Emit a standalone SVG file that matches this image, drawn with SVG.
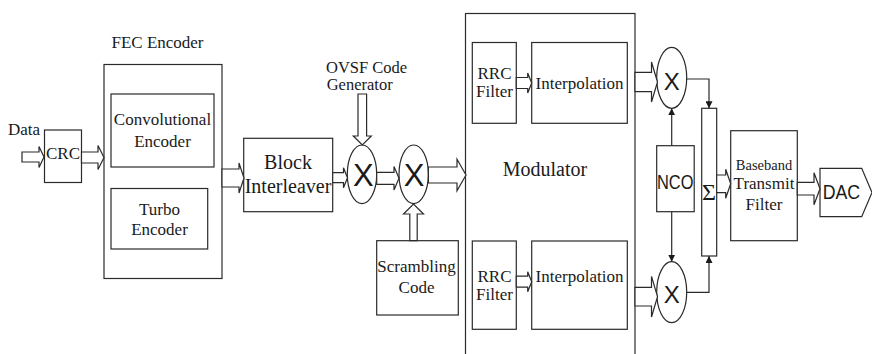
<svg xmlns="http://www.w3.org/2000/svg" width="872" height="354" viewBox="0 0 872 354" font-family="'Liberation Serif', 'Times New Roman', Tinos, 'DejaVu Serif', serif">
  <style>
    .box { fill: #fff; stroke: #2a2a2a; stroke-width: 1.2; }
    .fat { fill: #fff; stroke: #2a2a2a; stroke-width: 1.2; stroke-linejoin: miter; }
    .wire { fill: none; stroke: #2a2a2a; stroke-width: 1.2; }
    text { font-family: 'Liberation Serif', 'Times New Roman', Tinos, 'DejaVu Serif', serif; fill: #1a1a1a; font-size: 17px; }
    text.s { font-family: 'Liberation Sans', Arial, sans-serif; }
    .m { text-anchor: middle; }
  </style>
  <defs>
    <marker id="tip" viewBox="0 0 8 8" refX="8" refY="4" markerWidth="7" markerHeight="7" markerUnits="userSpaceOnUse" orient="auto">
      <path d="M0,0 L8,4 L0,8 z" fill="#1a1a1a"/>
    </marker>
  </defs>

  <!-- input label -->
  <text x="8" y="135">Data</text>

  <g id="crc">
    <rect class="box" x="44.5" y="130" width="37" height="52.5"/>
    <text class="m" x="63" y="159">CRC</text>
  </g>

  <g id="fec-encoder">
    <text class="m" x="157.5" y="48">FEC Encoder</text>
    <rect class="box" x="104" y="64.5" width="118" height="214"/>
    <rect class="box" x="111" y="94" width="103" height="73"/>
    <text class="m" x="162.5" y="125">Convolutional</text>
    <text class="m" x="162.5" y="146.7">Encoder</text>
    <rect class="box" x="111" y="188.5" width="96.7" height="60.5"/>
    <text class="m" x="159.5" y="215">Turbo</text>
    <text class="m" x="159.5" y="235">Encoder</text>
  </g>

  <g id="block-interleaver">
    <rect class="box" x="243.7" y="138.3" width="89" height="73.4"/>
    <text class="m" x="288" y="169.3" style="font-size:20px">Block</text>
    <text class="m" x="288" y="193.3" style="font-size:20px">Interleaver</text>
  </g>

  <g id="ovsf-generator">
    <text x="326" y="72.5" style="font-size:16.5px">OVSF Code</text>
    <text x="326.7" y="90" style="font-size:16.5px">Generator</text>
  </g>

  <g id="spread-mixer">
    <ellipse class="box" cx="362" cy="174.3" rx="14.7" ry="29.3"/>
    <text class="s m" x="363.3" y="185.7" style="font-size:31px">X</text>
  </g>

  <g id="scramble-mixer">
    <ellipse class="box" cx="413.7" cy="174.3" rx="14.7" ry="29.3"/>
    <text class="s m" x="414.2" y="185.7" style="font-size:31px">X</text>
  </g>

  <g id="scrambling-code">
    <rect class="box" x="376.7" y="240.7" width="81.6" height="74.3"/>
    <text class="m" x="416.5" y="272.3">Scrambling</text>
    <text class="m" x="416.5" y="292.7">Code</text>
  </g>

  <g id="modulator">
    <rect class="box" x="465.5" y="13.5" width="169.5" height="350"/>
    <text class="m" x="545" y="176" style="font-size:20px">Modulator</text>
    <rect class="box" x="472.3" y="42.5" width="44" height="80.8"/>
    <text class="m" x="494.5" y="79">RRC</text>
    <text class="m" x="494.5" y="97">Filter</text>
    <rect class="box" x="531.7" y="42.5" width="95.6" height="80.8"/>
    <text class="m" x="579.5" y="89">Interpolation</text>
    <rect class="box" x="472.3" y="241" width="44" height="88.3"/>
    <text class="m" x="494.5" y="281.5">RRC</text>
    <text class="m" x="494.5" y="300">Filter</text>
    <rect class="box" x="531.7" y="241" width="95.6" height="88.3"/>
    <text class="m" x="579.5" y="282">Interpolation</text>
  </g>

  <g id="i-mixer">
    <ellipse class="box" cx="671.7" cy="77.8" rx="15" ry="30.5"/>
    <text class="s m" x="671.7" y="90" style="font-size:24px">X</text>
  </g>

  <g id="q-mixer">
    <ellipse class="box" cx="671.7" cy="292.2" rx="15" ry="30.5"/>
    <text class="s m" x="671.7" y="303" style="font-size:24px">X</text>
  </g>

  <g id="nco">
    <rect class="box" x="656.7" y="145.7" width="37.5" height="66"/>
    <text class="s" x="657" y="188.5" style="font-size:20px" textLength="36.5" lengthAdjust="spacingAndGlyphs">NCO</text>
  </g>

  <g id="summer">
    <rect class="box" x="701.7" y="108.3" width="15" height="147.7"/>
    <text class="m" x="709" y="200" style="font-size:24px">Σ</text>
  </g>

  <g id="baseband-filter">
    <rect class="box" x="730.7" y="130.7" width="66.6" height="110"/>
    <text class="m" x="764" y="170" style="font-size:14.5px">Baseband</text>
    <text class="m" x="764" y="189">Transmit</text>
    <text class="m" x="764" y="210">Filter</text>
  </g>

  <g id="dac">
    <polygon class="box" points="820,168.3 861.7,168.3 872,192.5 861.7,216.7 820,216.7"/>
    <text class="s" x="822.7" y="199.3" style="font-size:20px" textLength="37.5" lengthAdjust="spacingAndGlyphs">DAC</text>
  </g>

  <g id="connectors">
    <!-- wide data-path arrows -->
    <polygon class="fat" points="22,152 39,152 39,146.5 44,157 39,167.5 39,162 22,162"/>
    <polygon class="fat" points="81.5,152 98,152 98,145.5 104,157.5 98,169.5 98,163 81.5,163"/>
    <polygon class="fat" points="222,169 239,169 239,163 244,178 239,193 239,187 222,187"/>
    <polygon class="fat" points="332.7,172.7 343.5,172.7 343.5,167.7 347.5,177.7 343.5,187.7 343.5,182.7 332.7,182.7"/>
    <polygon class="fat" points="376.7,172.3 394,172.3 394,166.6 399,178.3 394,190 394,184.3 376.7,184.3"/>
    <polygon class="fat" points="428.4,167 457,167 457,159.3 466,175 457,190.7 457,183 428.4,183"/>
    <polygon class="fat" points="358,94 366.6,94 366.6,136 371.3,136 362.3,145 353.3,136 358,136"/>
    <polygon class="fat" points="409.8,240.7 409.8,214 403.5,214 413.5,204 423.5,214 417.2,214 417.2,240.7"/>
    <polygon class="fat" points="516.3,77.5 527.7,77.5 527.7,73 531.7,83 527.7,93 527.7,88.5 516.3,88.5"/>
    <polygon class="fat" points="516.3,276.2 527.7,276.2 527.7,271.7 531.7,281.7 527.7,291.7 527.7,287.2 516.3,287.2"/>
    <polygon class="fat" points="635,72.3 651.5,72.3 651.5,62 657.5,82 651.5,102 651.5,91.7 635,91.7"/>
    <polygon class="fat" points="635,287.4 651.5,287.4 651.5,276.4 657.5,296.7 651.5,317 651.5,306 635,306"/>
    <polygon class="fat" points="716.7,175 725.7,175 725.7,169.3 730.7,183.8 725.7,198.3 725.7,192.6 716.7,192.6"/>
    <polygon class="fat" points="797.3,182.4 814,182.4 814,172.7 820,188.7 814,204.7 814,195 797.3,195"/>
    <!-- carrier and summing lines -->
    <path class="wire" d="M671.7,145.7 V108.3" marker-end="url(#tip)"/>
    <path class="wire" d="M671.7,211.7 V261.7" marker-end="url(#tip)"/>
    <path class="wire" d="M686.7,79 H709 V108.3" marker-end="url(#tip)"/>
    <path class="wire" d="M686.7,292.3 H709 V256" marker-end="url(#tip)"/>
  </g>
</svg>
